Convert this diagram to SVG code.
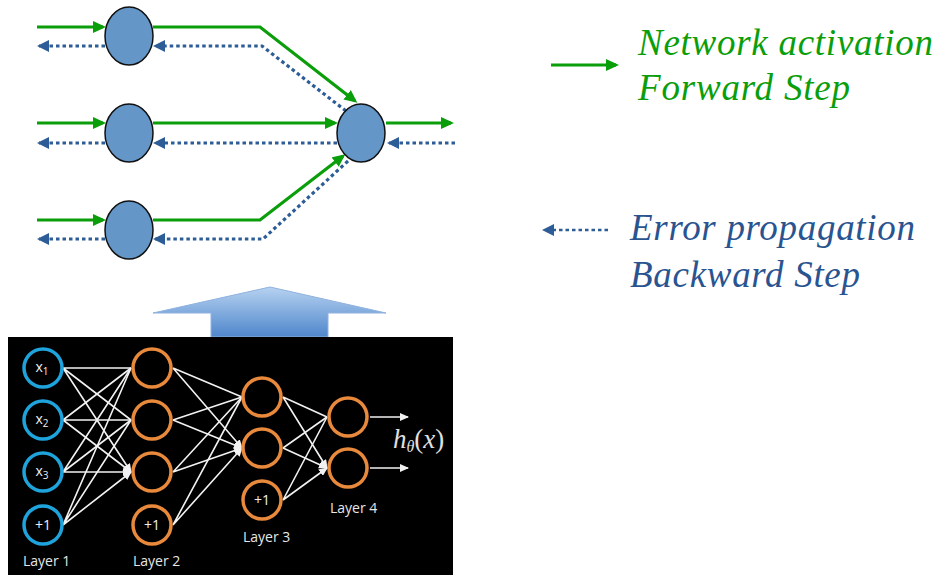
<svg xmlns="http://www.w3.org/2000/svg" width="940" height="575" viewBox="0 0 940 575">
<style>
.fw{fill:none;stroke:#0a9e0a;stroke-width:3.2}
.bw{fill:none;stroke:#2c5d96;stroke-width:3.2;stroke-dasharray:3.5 3}
.node{fill:#6496c8;stroke:#111;stroke-width:1.5}
.l1{fill:none;stroke:#1fa3dc;stroke-width:3.5}
.l2{fill:none;stroke:#e8893c;stroke-width:3.5}
.ed{stroke:#f2f2f2;stroke-width:1.6;fill:none}
.nt{font-family:"Open Sans","Liberation Sans",sans-serif;font-size:14px;fill:#f0f0f0;text-anchor:middle}
.lay{font-family:"Open Sans","Liberation Sans",sans-serif;font-size:14px;fill:#e6e6e6}
</style>
<defs>
<marker id="ga" markerUnits="userSpaceOnUse" markerWidth="14" markerHeight="12" refX="10" refY="6" orient="auto"><path d="M0,0 L13,6 L0,12 z" fill="#0a9e0a"/></marker>
<marker id="ba" markerUnits="userSpaceOnUse" markerWidth="14" markerHeight="12" refX="10" refY="6" orient="auto"><path d="M0,0 L12,6 L0,12 z" fill="#2c5d96"/></marker>
<marker id="wa" markerUnits="userSpaceOnUse" markerWidth="9" markerHeight="8" refX="8" refY="4" orient="auto"><path d="M0,0 L9,4 L0,8 z" fill="#f2f2f2"/></marker>
<linearGradient id="bg" x1="0" y1="0" x2="0" y2="1"><stop offset="0" stop-color="#b6d2f0"/><stop offset="1" stop-color="#4f86cc"/></linearGradient>
</defs>

<g id="connectors">
<path class="fw" d="M37,27 L103,27" marker-end="url(#ga)"/>
<path class="fw" d="M37,123 L103,123" marker-end="url(#ga)"/>
<path class="fw" d="M37,220 L103,220" marker-end="url(#ga)"/>
<path class="fw" d="M153,27 L260,27 L355,101" marker-end="url(#ga)"/>
<path class="fw" d="M153,123 L335,123" marker-end="url(#ga)"/>
<path class="fw" d="M153,220 L260,220 L343,156" marker-end="url(#ga)"/>
<path class="fw" d="M386,123 L451,123" marker-end="url(#ga)"/>
<path class="bw" d="M105,46 L39,46" marker-end="url(#ba)"/>
<path class="bw" d="M105,143 L39,143" marker-end="url(#ba)"/>
<path class="bw" d="M105,239 L39,239" marker-end="url(#ba)"/>
<path class="bw" d="M346,111 L262,46 L155,46" marker-end="url(#ba)"/>
<path class="bw" d="M337,143 L155,143" marker-end="url(#ba)"/>
<path class="bw" d="M348,161 L263,239 L155,239" marker-end="url(#ba)"/>
<path class="bw" d="M455,143 L389,143" marker-end="url(#ba)"/>
</g>

<g id="n1"><ellipse class="node" cx="129" cy="36" rx="24" ry="29"/></g>
<g id="n2"><ellipse class="node" cx="129" cy="133" rx="24" ry="29"/></g>
<g id="n3"><ellipse class="node" cx="129" cy="230" rx="24" ry="29"/></g>
<g id="n4"><ellipse class="node" cx="361" cy="133" rx="24" ry="29"/></g>

<g id="legend" font-family="'Liberation Serif','Times New Roman',serif" font-style="italic" font-size="37">
<path class="fw" d="M551,65 L616,65" marker-end="url(#ga)"/>
<text x="638" y="55" fill="#0a9e0a" textLength="295">Network activation</text>
<text x="638" y="100" fill="#0a9e0a" textLength="212">Forward Step</text>
<path class="bw" d="M608,230 L544,230" marker-end="url(#ba)" style="stroke-width:2.6"/>
<text x="630" y="240" fill="#2a5490" textLength="285">Error propagation</text>
<text x="630" y="287" fill="#2a5490" textLength="230">Backward Step</text>
</g>

<g id="bigarrow">
<path d="M270,287 L386,313 L328,313 L328,337 L211,337 L211,313 L153,313 Z" fill="url(#bg)" stroke="#8fb2de" stroke-width="1"/>
</g>

<g id="network">
<rect x="8" y="337" width="445" height="238" fill="#000"/>
<g id="net-edges">
<path class="ed" marker-end="url(#wa)" d="M63,368 L131,368 M63,368 L131,420 M63,368 L131,472"/>
<path class="ed" marker-end="url(#wa)" d="M63,420 L131,368 M63,420 L131,420 M63,420 L131,472"/>
<path class="ed" marker-end="url(#wa)" d="M63,472 L131,368 M63,472 L131,420 M63,472 L131,472"/>
<path class="ed" marker-end="url(#wa)" d="M63,525 L131,368 M63,525 L131,420 M63,525 L131,472"/>
<path class="ed" marker-end="url(#wa)" d="M173,368 L242,397 M173,368 L242,448"/>
<path class="ed" marker-end="url(#wa)" d="M173,420 L242,397 M173,420 L242,448"/>
<path class="ed" marker-end="url(#wa)" d="M173,472 L242,397 M173,472 L242,448"/>
<path class="ed" marker-end="url(#wa)" d="M173,525 L242,397 M173,525 L242,448"/>
<path class="ed" marker-end="url(#wa)" d="M283,397 L327,417 M283,397 L327,468"/>
<path class="ed" marker-end="url(#wa)" d="M283,448 L327,417 M283,448 L327,468"/>
<path class="ed" marker-end="url(#wa)" d="M283,500 L327,417 M283,500 L327,468"/>
<path class="ed" marker-end="url(#wa)" d="M370,417 L408,417"/>
<path class="ed" marker-end="url(#wa)" d="M370,468 L408,468"/>
</g>
<g id="L1a"><circle class="l1" cx="43" cy="368" r="19"/><text class="nt" x="42" y="372">x<tspan font-size="10" dy="3">1</tspan></text></g>
<g id="L1b"><circle class="l1" cx="43" cy="420" r="19"/><text class="nt" x="42" y="424">x<tspan font-size="10" dy="3">2</tspan></text></g>
<g id="L1c"><circle class="l1" cx="43" cy="472" r="19"/><text class="nt" x="42" y="476">x<tspan font-size="10" dy="3">3</tspan></text></g>
<g id="L1d"><circle class="l1" cx="43" cy="525" r="19"/><text class="nt" x="43" y="530">+1</text></g>
<g id="L2a"><circle class="l2" cx="152" cy="368" r="19"/></g>
<g id="L2b"><circle class="l2" cx="152" cy="420" r="19"/></g>
<g id="L2c"><circle class="l2" cx="152" cy="472" r="19"/></g>
<g id="L2d"><circle class="l2" cx="152" cy="525" r="19"/><text class="nt" x="152" y="530">+1</text></g>
<g id="L3a"><circle class="l2" cx="262" cy="397" r="19"/></g>
<g id="L3b"><circle class="l2" cx="262" cy="448" r="19"/></g>
<g id="L3c"><circle class="l2" cx="262" cy="500" r="19"/><text class="nt" x="262" y="505">+1</text></g>
<g id="L4a"><circle class="l2" cx="348" cy="417" r="19"/></g>
<g id="L4b"><circle class="l2" cx="348" cy="468" r="19"/></g>
<text class="lay" x="23" y="566">Layer 1</text>
<text class="lay" x="133" y="566">Layer 2</text>
<text class="lay" x="243" y="542">Layer 3</text>
<text class="lay" x="330" y="513">Layer 4</text>
<text x="393" y="448" font-family="'Liberation Serif','DejaVu Serif',serif" font-size="27" fill="#e0e0e0"><tspan font-style="italic">h</tspan><tspan font-style="italic" font-size="16" dy="4">θ</tspan><tspan dy="-4">(</tspan><tspan font-style="italic">x</tspan>)</text>
</g>
</svg>
